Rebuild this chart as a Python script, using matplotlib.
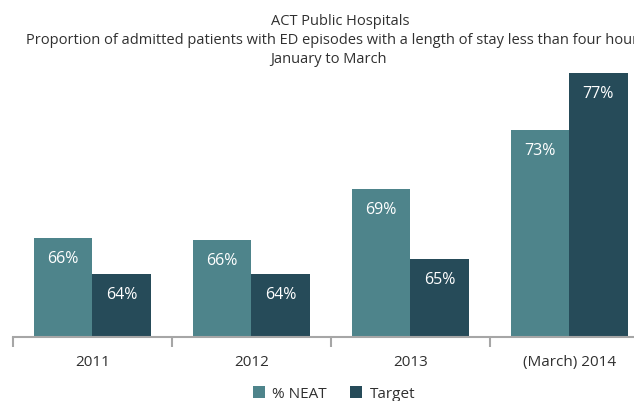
import numpy as np
import matplotlib.pyplot as plt

plt.rcParams['font.family'] = ['Open Sans', 'DejaVu Sans']

# data
years = ["2011", "2012", "2013", "(March) 2014"]
neat = [66.35, 66.2, 69.5, 73.3]
target = [64, 64, 65, 77]
neat_labels = ["66%", "66%", "69%", "73%"]
target_labels = ["64%", "64%", "65%", "77%"]

c_neat = "#4e848b"
c_target = "#264b59"
txt = "#303030"

W, H = 634, 401
fig = plt.figure(figsize=(W / 100, H / 100), dpi=100)

# axes: left edge at first tick, one category = 159 px
left, base = 12.7, 336.5
cat_w = 159
y0, y1 = 60, 78
px_per = 15.5
ax = fig.add_axes([left / W, (H - base) / H, 4 * cat_w / W, (y1 - y0) * px_per / H])

x = np.arange(len(years))
bw = 0.367
b1 = ax.bar(x - bw / 2, [v - y0 for v in neat], bw, bottom=y0, color=c_neat, label="% NEAT")
b2 = ax.bar(x + bw / 2, [v - y0 for v in target], bw, bottom=y0, color=c_target, label="Target")

for bars, labs in [(b1, neat_labels), (b2, target_labels)]:
    for r, lab in zip(bars, labs):
        ax.annotate(lab, (r.get_x() + r.get_width() / 2, r.get_y() + r.get_height()),
                    xytext=(0, -21), textcoords="offset pixels",
                    ha="center", va="center", color="white", fontsize=11.5)

ax.set_xlim(-0.5, 3.5)
ax.set_ylim(y0, y1)
for s in ["top", "right", "left"]:
    ax.spines[s].set_visible(False)
ax.spines["bottom"].set_color("#a6a6a6")
ax.spines["bottom"].set_linewidth(1.5)
ax.set_yticks([])
ax.set_xticks(x)
ax.set_xticklabels(years, fontsize=11, color=txt)
ax.tick_params(axis="x", which="major", length=0, pad=13)
ax.set_xticks(np.arange(-0.5, 4, 1), minor=True)
ax.tick_params(axis="x", which="minor", length=7, width=1.5, color="#a6a6a6")

# title lines (second line runs off the right edge, as in the original)
fig.text(340 / W, 1 - 25 / H, "ACT Public Hospitals", ha="center", va="baseline",
         fontsize=10.5, color=txt)
fig.text(26 / W, 1 - 44 / H,
         "Proportion of admitted patients with ED episodes with a length of stay less than four hours",
         ha="left", va="baseline", fontsize=10.5, color=txt)
fig.text(328 / W, 1 - 63 / H, "January to March", ha="center", va="baseline",
         fontsize=10.5, color=txt)

fig.legend(handles=[b1, b2], loc="center", bbox_to_anchor=(334 / W, 7 / H),
           ncol=2, frameon=False, fontsize=11, handlelength=0.8, handleheight=0.8,
           handletextpad=0.5, columnspacing=1.5, borderpad=0, labelcolor=txt)

fig.savefig("out.png", dpi=100)
